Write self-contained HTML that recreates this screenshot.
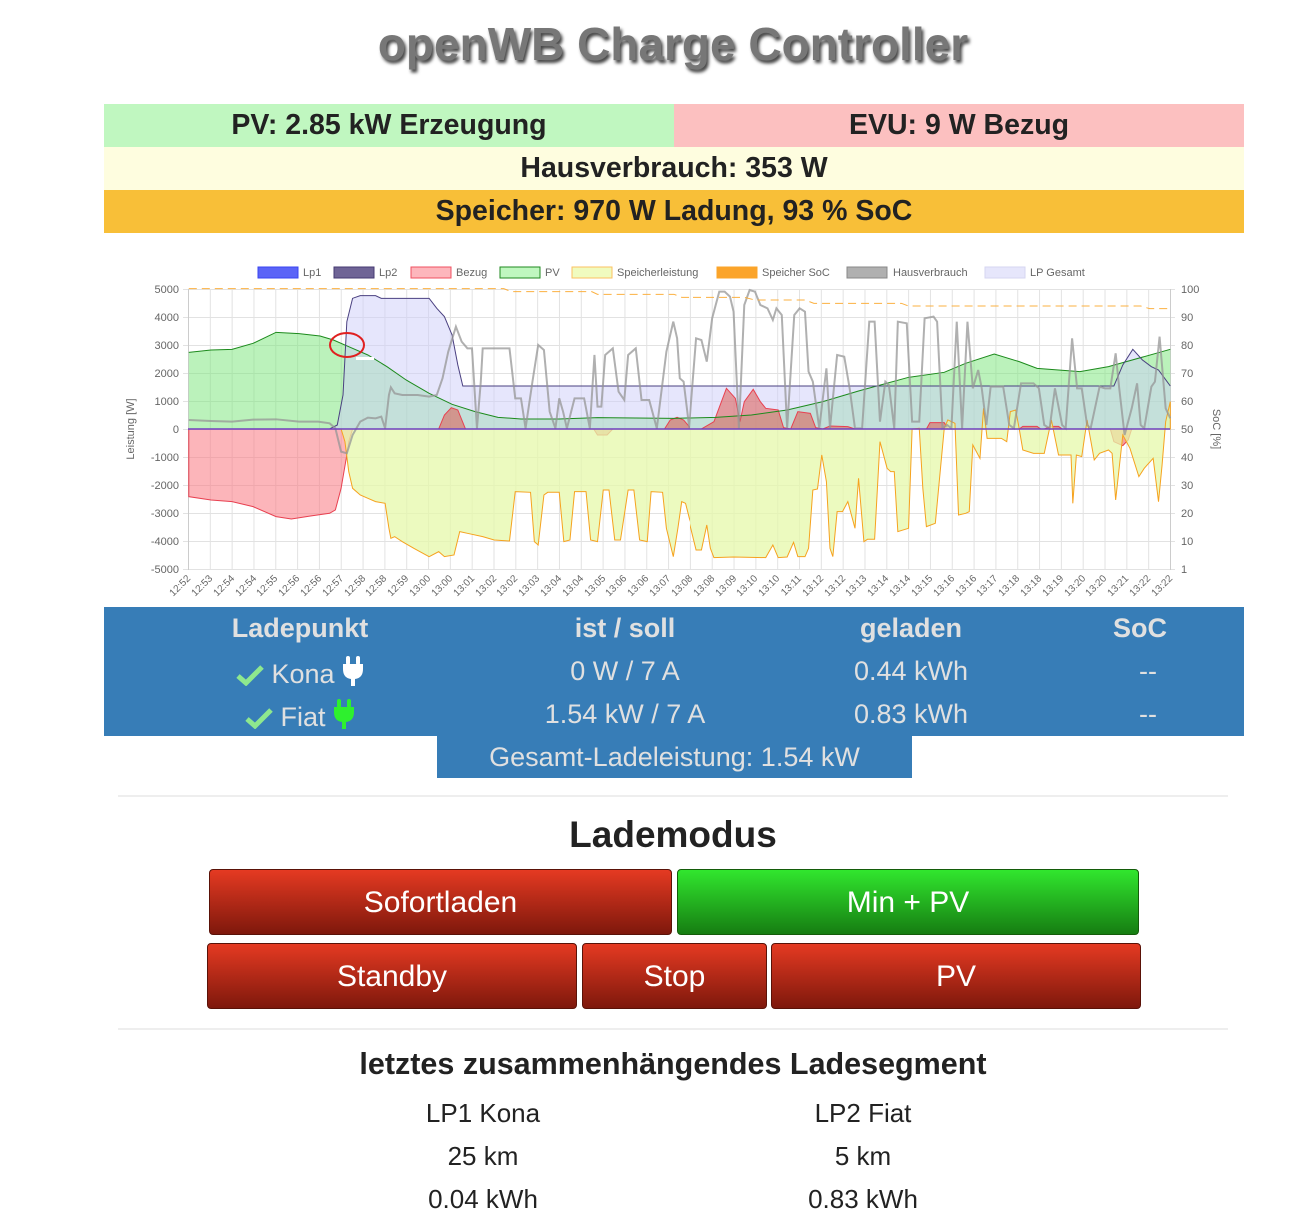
<!DOCTYPE html>
<html><head><meta charset="utf-8"><style>
body{margin:0;width:1312px;height:1219px;background:#fff;font-family:"Liberation Sans",sans-serif;position:relative;overflow:hidden}
.a{position:absolute}
.t{text-align:center}
.title{left:0;width:1346px;top:17px;font-size:46px;font-weight:bold;color:#777;text-shadow:2px 3px 3px #444}
.bar{font-size:28.5px;font-weight:bold;color:#222;line-height:43px;text-align:center}
.blue{background:#377db7;color:#e0e0e0;font-size:27px}
.btn{position:absolute;border-radius:4px;color:#fff;font-size:30px;text-align:center;line-height:65px;border:1px solid #5a1208;background:linear-gradient(#e53a22,#7e180c)}
.g{border-color:#145c0a;background:linear-gradient(#31e62e,#167d12)}
.hr{position:absolute;left:118px;width:1110px;height:2px;background:#eee}
.c{position:absolute;font-size:26px;color:#222;text-align:center;width:300px}
svg.i{vertical-align:-3px}
</style></head><body>
<div class="a title t">openWB Charge Controller</div>
<div class="a bar" style="left:104px;top:104px;width:570px;background:#c0f7c0">PV: 2.85 kW Erzeugung</div>
<div class="a bar" style="left:674px;top:104px;width:570px;background:#fcc0c0">EVU: 9 W Bezug</div>
<div class="a bar" style="left:104px;top:147px;width:1140px;background:#fefddf">Hausverbrauch: 353 W</div>
<div class="a bar" style="left:104px;top:190px;width:1140px;background:#f8bf38">Speicher: 970 W Ladung, 93 % SoC</div>

<svg class="a" style="left:0;top:0" width="1312" height="610" font-family="Liberation Sans, sans-serif">
<defs>
<pattern id="vg" x="188" y="0" width="21.822" height="10" patternUnits="userSpaceOnUse"><rect x="0" y="0" width="1" height="10" fill="#e2e2e2"/></pattern>
<clipPath id="c1"><rect x="188" y="280" width="502" height="300"/></clipPath>
<clipPath id="c2"><rect x="690" y="280" width="481" height="300"/></clipPath>
</defs>
<g font-size="11" fill="#666">
<rect x="258" y="267" width="40" height="11" fill="#5b64f7" stroke="#3a44f0"/><text x="303" y="276">Lp1</text>
<rect x="334" y="267" width="40" height="11" fill="#6f6496" stroke="#443a72"/><text x="379" y="276">Lp2</text>
<rect x="411" y="267" width="40" height="11" fill="#fdb6bc" stroke="#f05060"/><text x="456" y="276">Bezug</text>
<rect x="500" y="267" width="40" height="11" fill="#bff7bf" stroke="#1f8a1f"/><text x="545" y="276">PV</text>
<rect x="572" y="267" width="40" height="11" fill="#f0fbbf" stroke="#fbc260"/><text x="617" y="276">Speicherleistung</text>
<rect x="717" y="267" width="40" height="11" fill="#fba42a" stroke="#fba42a"/><text x="762" y="276">Speicher SoC</text>
<rect x="847" y="267" width="40" height="11" fill="#b0b0b0" stroke="#888"/><text x="893" y="276">Hausverbrauch</text>
<rect x="985" y="267" width="40" height="11" fill="#e6e6fb" stroke="#d6d6f0"/><text x="1030" y="276">LP Gesamt</text>
</g>
<rect x="188" y="289" width="983" height="281" fill="url(#vg)"/>
<g stroke="#e2e2e2" stroke-width="1">
<line x1="183" x2="1175" y1="289.5" y2="289.5"/><line x1="183" x2="1175" y1="317.5" y2="317.5"/><line x1="183" x2="1175" y1="345.5" y2="345.5"/><line x1="183" x2="1175" y1="373.5" y2="373.5"/><line x1="183" x2="1175" y1="401.5" y2="401.5"/><line x1="183" x2="1175" y1="429.5" y2="429.5"/><line x1="183" x2="1175" y1="457.5" y2="457.5"/><line x1="183" x2="1175" y1="485.5" y2="485.5"/><line x1="183" x2="1175" y1="513.5" y2="513.5"/><line x1="183" x2="1175" y1="541.5" y2="541.5"/><line x1="183" x2="1175" y1="569.5" y2="569.5"/>
</g>
<line x1="188.5" x2="188.5" y1="289" y2="570" stroke="#ccc"/>
<line x1="1170.5" x2="1170.5" y1="289" y2="570" stroke="#ccc"/>
<g font-size="11" fill="#666" text-anchor="end">
<text x="179" y="293">5000</text><text x="179" y="321">4000</text><text x="179" y="349">3000</text><text x="179" y="377">2000</text><text x="179" y="405">1000</text><text x="179" y="433">0</text><text x="179" y="461">-1000</text><text x="179" y="489">-2000</text><text x="179" y="517">-3000</text><text x="179" y="545">-4000</text><text x="179" y="573">-5000</text>
</g>
<g font-size="11" fill="#666">
<text x="1181" y="293">100</text><text x="1181" y="321">90</text><text x="1181" y="349">80</text><text x="1181" y="377">70</text><text x="1181" y="405">60</text><text x="1181" y="433">50</text><text x="1181" y="461">40</text><text x="1181" y="489">30</text><text x="1181" y="517">20</text><text x="1181" y="545">10</text><text x="1181" y="573">1</text>
</g>
<text x="0" y="0" font-size="11" fill="#666" text-anchor="middle" transform="translate(134 429) rotate(-90)">Leistung [W]</text>
<text x="0" y="0" font-size="11" fill="#666" text-anchor="middle" transform="translate(1213 429) rotate(90)">SoC [%]</text>

<g clip-path="url(#c1)"><g transform="translate(100 255) scale(0.3827 0.3333)">
<polygon fill="rgba(120,230,120,0.5)" points="232,522 232,292 290,285 345,283 400,265 460,232 520,236 575,243 610,255 650,275 700,300 750,335 800,375 860,415 920,448 980,470 1040,487 1100,492 1200,492 1300,488 1400,489 1500,490 1568,488 1568,522"/>
<polygon fill="rgba(205,205,250,0.5)" points="232,522 600,522 620,510 635,420 645,200 660,130 680,122 720,122 735,130 760,130 860,130 880,160 900,185 920,240 935,330 948,393 960,393 1568,393 1568,522"/>
<polygon fill="rgba(250,120,130,0.55)" stroke="#e84050" stroke-width="1" vector-effect="non-scaling-stroke" points="232,522 232,725 290,735 345,740 400,755 460,785 500,792 550,783 600,775 615,765 630,700 645,600 650,560 660,522"/>
<polygon fill="rgba(220,90,80,0.55)" stroke="#e84050" vector-effect="non-scaling-stroke" points="885,522 900,480 918,458 935,465 955,522"/>
<polygon fill="rgba(220,90,80,0.55)" stroke="#e84050" vector-effect="non-scaling-stroke" points="1290,522 1300,540 1325,540 1340,522"/>
<polygon fill="rgba(220,90,80,0.55)" stroke="#e84050" vector-effect="non-scaling-stroke" points="1475,522 1490,495 1508,487 1525,495 1545,522"/>
<polygon fill="rgba(230,248,170,0.75)" stroke="#f6a21e" vector-effect="non-scaling-stroke" points="630,522 640,560 650,650 660,700 680,720 700,730 720,740 745,745 755,820 760,850 770,845 790,860 820,880 860,905 885,890 900,905 925,900 940,830 960,835 1000,845 1030,855 1070,858 1085,710 1125,712 1135,860 1145,870 1160,720 1170,712 1200,712 1212,860 1228,855 1240,710 1270,710 1282,855 1300,860 1315,705 1330,705 1345,855 1360,855 1380,705 1395,705 1410,855 1430,860 1440,710 1470,712 1480,820 1498,905 1510,820 1520,740 1530,745 1540,790 1568,887 1568,522"/>
<polyline fill="none" stroke="#1c8a1c" stroke-width="1" vector-effect="non-scaling-stroke" points="232,292 290,285 345,283 400,265 460,232 520,236 575,243 610,255 650,275 700,300 750,335 800,375 860,415 920,448 980,470 1040,487 1100,492 1200,492 1300,488 1400,489 1500,490 1568,488"/>
<polyline fill="none" stroke="#4a4080" stroke-width="1" vector-effect="non-scaling-stroke" points="600,522 620,510 635,420 645,200 660,130 680,122 720,122 735,130 760,130 860,130 880,160 900,185 920,240 935,330 948,393 960,393 1568,393"/>
<polyline fill="none" stroke="rgba(150,150,150,0.75)" stroke-width="2" vector-effect="non-scaling-stroke" points="232,495 290,498 345,500 400,494 460,493 520,500 570,500 600,505 615,520 630,590 645,595 660,540 680,500 700,488 720,490 735,485 745,520 755,420 760,397 770,415 790,420 830,420 860,425 880,420 895,370 910,290 930,215 945,260 960,280 972,280 985,520 995,380 1000,280 1070,280 1085,430 1100,430 1112,520 1130,380 1145,270 1160,285 1175,470 1190,520 1200,430 1210,470 1220,520 1240,430 1265,430 1280,520 1292,300 1300,455 1310,455 1320,300 1340,280 1355,410 1370,435 1380,300 1400,280 1415,435 1435,435 1455,520 1480,290 1498,200 1508,250 1515,370 1525,380 1540,520 1555,260 1568,250"/>
<polyline fill="none" stroke="#fbb040" stroke-width="1" stroke-dasharray="8 5" vector-effect="non-scaling-stroke" points="232,101 1055,101 1075,110 1285,110 1300,118 1500,118 1520,127 1568,127"/>
</g></g>
<g clip-path="url(#c2)"><g transform="translate(680 255) scale(0.3571 0.3333)">
<polygon fill="rgba(120,230,120,0.5)" points="0,522 0,490 100,487 200,480 300,465 400,440 500,408 640,367 740,352 800,325 880,297 950,320 1000,340 1120,350 1200,335 1373,283 1373,522"/>
<polygon fill="rgba(205,205,250,0.5)" points="0,522 0,393 1215,393 1240,330 1268,283 1295,315 1320,335 1340,345 1373,393 1373,522"/>
<polygon fill="rgba(220,90,80,0.55)" stroke="#e84050" vector-effect="non-scaling-stroke" points="60,522 95,500 130,400 155,430 168,500 180,440 205,403 225,440 240,460 275,465 290,518 310,522 330,470 365,475 380,518 400,522 420,513 470,515 490,522"/>
<polygon fill="rgba(220,90,80,0.55)" stroke="#e84050" vector-effect="non-scaling-stroke" points="690,522 700,503 740,503 750,522"/>
<polygon fill="rgba(220,90,80,0.55)" stroke="#e84050" vector-effect="non-scaling-stroke" points="950,522 960,514 1000,514 1010,522"/>
<polygon fill="rgba(220,90,80,0.55)" stroke="#e84050" vector-effect="non-scaling-stroke" points="1020,522 1040,514 1060,514 1070,522"/>
<polygon fill="rgba(240,100,90,0.6)" stroke="#e84050" vector-effect="non-scaling-stroke" points="1205,522 1215,560 1240,572 1255,555 1265,522"/>
<polygon fill="rgba(230,248,170,0.75)" stroke="#f6a21e" vector-effect="non-scaling-stroke" points="0,522 0,735 15,760 30,820 45,885 60,885 75,810 85,880 95,908 150,906 240,908 260,870 275,908 300,906 318,862 330,905 350,905 360,880 372,705 385,702 397,600 410,680 420,880 428,905 440,770 455,770 470,740 490,820 500,670 515,860 525,853 545,853 560,560 580,640 590,650 600,650 610,830 640,820 650,522 670,520 680,700 690,815 715,805 740,520 750,495 770,505 780,780 800,775 810,770 820,570 840,610 850,460 860,550 900,550 915,560 925,470 940,465 950,522 960,585 990,595 1020,595 1040,495 1060,600 1080,600 1095,600 1100,745 1110,600 1125,605 1140,495 1160,615 1175,595 1200,585 1210,595 1220,735 1240,540 1260,580 1285,665 1300,640 1325,610 1340,740 1350,630 1360,500 1373,440 1373,522"/>
<polyline fill="none" stroke="#1c8a1c" stroke-width="1" vector-effect="non-scaling-stroke" points="0,490 100,487 200,480 300,465 400,440 500,408 640,367 740,352 800,325 880,297 950,320 1000,340 1120,350 1200,335 1373,283"/>
<polyline fill="none" stroke="#4a4080" stroke-width="1" vector-effect="non-scaling-stroke" points="0,393 1215,393 1240,330 1268,283 1295,315 1320,335 1340,345 1373,393"/>
<polyline fill="none" stroke="rgba(150,150,150,0.75)" stroke-width="2" vector-effect="non-scaling-stroke" points="0,370 15,375 25,520 45,250 60,255 75,320 90,190 110,110 125,110 140,125 150,170 165,520 180,150 195,105 210,110 225,150 245,160 260,195 270,160 285,180 300,520 320,180 335,160 350,170 360,350 372,380 390,520 410,340 420,520 440,300 460,305 475,400 490,520 510,520 530,200 545,200 560,500 575,380 585,390 600,520 610,200 635,205 650,500 670,500 685,190 710,185 720,200 735,520 748,510 760,520 775,200 790,520 805,200 820,400 835,345 845,400 858,510 870,395 905,395 922,510 935,520 955,385 990,385 1005,400 1020,510 1035,520 1050,400 1070,510 1080,520 1098,250 1112,400 1125,400 1140,510 1150,520 1175,395 1190,400 1205,400 1220,295 1230,400 1245,540 1265,460 1280,385 1290,510 1300,520 1320,395 1330,380 1343,245 1360,460 1373,490"/>
<polyline fill="none" stroke="#fbb040" stroke-width="1" stroke-dasharray="8 5" vector-effect="non-scaling-stroke" points="0,127 180,127 210,135 350,135 375,145 620,145 640,153 1290,153 1315,161 1373,161"/>
</g></g>
<line x1="188" x2="1170" y1="429" y2="429" stroke="#7040c0" stroke-width="1.5"/>
<ellipse cx="347" cy="345" rx="17" ry="12" fill="none" stroke="#e02020" stroke-width="2"/>
<rect x="356" y="357" width="18" height="3" fill="#fff"/>
<g font-size="10" fill="#666" text-anchor="end">
<text transform="translate(191 579) rotate(-45)">12:52</text><text transform="translate(213 579) rotate(-45)">12:53</text><text transform="translate(235 579) rotate(-45)">12:54</text><text transform="translate(257 579) rotate(-45)">12:54</text><text transform="translate(278 579) rotate(-45)">12:55</text><text transform="translate(300 579) rotate(-45)">12:56</text><text transform="translate(322 579) rotate(-45)">12:56</text><text transform="translate(344 579) rotate(-45)">12:57</text><text transform="translate(366 579) rotate(-45)">12:58</text><text transform="translate(387 579) rotate(-45)">12:58</text><text transform="translate(409 579) rotate(-45)">12:59</text><text transform="translate(431 579) rotate(-45)">13:00</text><text transform="translate(453 579) rotate(-45)">13:00</text><text transform="translate(475 579) rotate(-45)">13:01</text><text transform="translate(497 579) rotate(-45)">13:02</text><text transform="translate(518 579) rotate(-45)">13:02</text><text transform="translate(540 579) rotate(-45)">13:03</text><text transform="translate(562 579) rotate(-45)">13:04</text><text transform="translate(584 579) rotate(-45)">13:04</text><text transform="translate(606 579) rotate(-45)">13:05</text><text transform="translate(627 579) rotate(-45)">13:06</text><text transform="translate(649 579) rotate(-45)">13:06</text><text transform="translate(671 579) rotate(-45)">13:07</text><text transform="translate(693 579) rotate(-45)">13:08</text><text transform="translate(715 579) rotate(-45)">13:08</text><text transform="translate(737 579) rotate(-45)">13:09</text><text transform="translate(758 579) rotate(-45)">13:10</text><text transform="translate(780 579) rotate(-45)">13:10</text><text transform="translate(802 579) rotate(-45)">13:11</text><text transform="translate(824 579) rotate(-45)">13:12</text><text transform="translate(846 579) rotate(-45)">13:12</text><text transform="translate(867 579) rotate(-45)">13:13</text><text transform="translate(889 579) rotate(-45)">13:14</text><text transform="translate(911 579) rotate(-45)">13:14</text><text transform="translate(933 579) rotate(-45)">13:15</text><text transform="translate(955 579) rotate(-45)">13:16</text><text transform="translate(977 579) rotate(-45)">13:16</text><text transform="translate(998 579) rotate(-45)">13:17</text><text transform="translate(1020 579) rotate(-45)">13:18</text><text transform="translate(1042 579) rotate(-45)">13:18</text><text transform="translate(1064 579) rotate(-45)">13:19</text><text transform="translate(1086 579) rotate(-45)">13:20</text><text transform="translate(1107 579) rotate(-45)">13:20</text><text transform="translate(1129 579) rotate(-45)">13:21</text><text transform="translate(1151 579) rotate(-45)">13:22</text><text transform="translate(1173 579) rotate(-45)">13:22</text>
</g>
</svg>

<div class="a blue" style="left:104px;top:607px;width:1140px;height:129px"></div>
<div class="a blue" style="left:437px;top:736px;width:475px;height:42px"></div>
<div class="a" style="left:0;top:0;width:1312px;color:#e0e0e0;font-size:27px">
<div class="a t" style="left:150px;width:300px;top:613px;font-weight:bold">Ladepunkt</div>
<div class="a t" style="left:475px;width:300px;top:613px;font-weight:bold">ist / soll</div>
<div class="a t" style="left:761px;width:300px;top:613px;font-weight:bold">geladen</div>
<div class="a t" style="left:990px;width:300px;top:613px;font-weight:bold">SoC</div>
<div class="a t" style="left:150px;width:300px;top:656px"><svg class="i" width="28" height="22" viewBox="0 0 28 22"><path d="M2 12 L10 19 L26 3" fill="none" stroke="#8ee88e" stroke-width="5"/></svg> Kona <svg class="i" width="22" height="30" viewBox="0 0 22 30"><rect x="4" y="0" width="4" height="9" rx="2" fill="#fff"/><rect x="14" y="0" width="4" height="9" rx="2" fill="#fff"/><path d="M1 8 H21 V13 Q21 22 13 23 V30 H9 V23 Q1 22 1 13 Z" fill="#fff"/></svg></div>
<div class="a t" style="left:475px;width:300px;top:656px">0 W / 7 A</div>
<div class="a t" style="left:761px;width:300px;top:656px">0.44 kWh</div>
<div class="a t" style="left:998px;width:300px;top:656px">--</div>
<div class="a t" style="left:150px;width:300px;top:699px"><svg class="i" width="28" height="22" viewBox="0 0 28 22"><path d="M2 12 L10 19 L26 3" fill="none" stroke="#8ee88e" stroke-width="5"/></svg> Fiat <svg class="i" width="22" height="30" viewBox="0 0 22 30"><rect x="4" y="0" width="4" height="9" rx="2" fill="#2ef02e"/><rect x="14" y="0" width="4" height="9" rx="2" fill="#2ef02e"/><path d="M1 8 H21 V13 Q21 22 13 23 V30 H9 V23 Q1 22 1 13 Z" fill="#2ef02e"/></svg></div>
<div class="a t" style="left:475px;width:300px;top:699px">1.54 kW / 7 A</div>
<div class="a t" style="left:761px;width:300px;top:699px">0.83 kWh</div>
<div class="a t" style="left:998px;width:300px;top:699px">--</div>
<div class="a t" style="left:437px;width:475px;top:742px">Gesamt-Ladeleistung: 1.54 kW</div>
</div>

<div class="hr" style="top:795px"></div>
<div class="a t" style="left:0;width:1346px;top:814px;font-size:37px;font-weight:bold;color:#222">Lademodus</div>
<div class="btn" style="left:209px;top:869px;width:461px;height:64px">Sofortladen</div>
<div class="btn g" style="left:677px;top:869px;width:460px;height:64px">Min + PV</div>
<div class="btn" style="left:207px;top:943px;width:368px;height:64px">Standby</div>
<div class="btn" style="left:582px;top:943px;width:183px;height:64px">Stop</div>
<div class="btn" style="left:771px;top:943px;width:368px;height:64px">PV</div>
<div class="hr" style="top:1028px"></div>
<div class="a t" style="left:0;width:1346px;top:1047px;font-size:30.5px;font-weight:bold;color:#222">letztes zusammenhängendes Ladesegment</div>
<div class="c" style="left:333px;top:1098px">LP1 Kona</div>
<div class="c" style="left:713px;top:1098px">LP2 Fiat</div>
<div class="c" style="left:333px;top:1141px">25 km</div>
<div class="c" style="left:713px;top:1141px">5 km</div>
<div class="c" style="left:333px;top:1184px">0.04 kWh</div>
<div class="c" style="left:713px;top:1184px">0.83 kWh</div>
</body></html>
